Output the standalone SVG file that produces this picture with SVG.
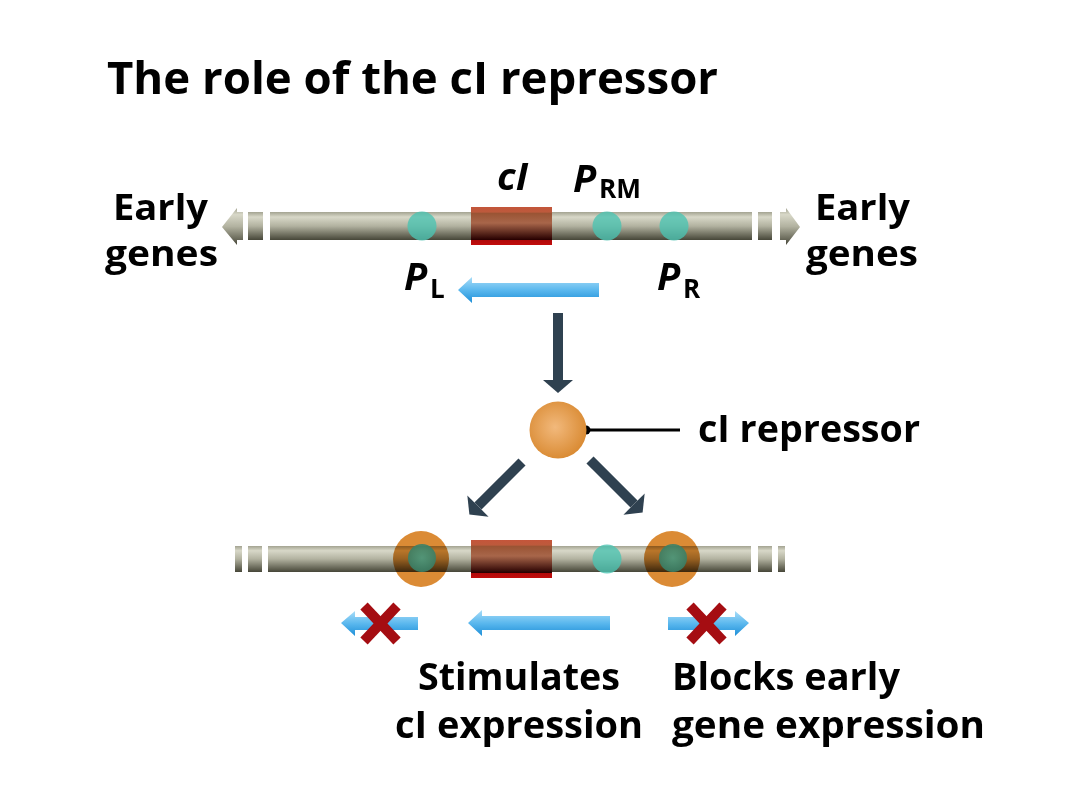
<svg xmlns="http://www.w3.org/2000/svg" width="1080" height="810" viewBox="0 0 1080 810">
<style>
text{font-family:"Open Sans","Liberation Sans",sans-serif;font-weight:700;fill:#000}
.lbl{font-size:38px}
.side{font-size:35px}
.sub{font-size:26px}
.it{font-style:italic}
.bar{fill:url(#gBar)}
.box{fill:url(#gBox)}
.teal{fill:#4cc3b1;opacity:.8}
.blue{fill:url(#gBlue)}
.dark{fill:#2f4150}
.cross{stroke:#a50d12;stroke-width:10;stroke-linecap:butt}
</style>
<defs>
<linearGradient id="gBar" x1="0" y1="0" x2="0" y2="1">
<stop offset="0" stop-color="#a3a391"/>
<stop offset="0.18" stop-color="#d8d8c8"/>
<stop offset="0.5" stop-color="#b2b2a0"/>
<stop offset="1" stop-color="#464638"/>
</linearGradient>
<linearGradient id="gBox" x1="0" y1="0" x2="0" y2="1">
<stop offset="0" stop-color="#c4553a"/>
<stop offset="0.13" stop-color="#bd5a3c"/>
<stop offset="0.17" stop-color="#9a5434"/>
<stop offset="0.42" stop-color="#a8664a"/>
<stop offset="0.86" stop-color="#280000"/>
<stop offset="0.87" stop-color="#b00a0a"/>
<stop offset="1" stop-color="#c20c0c"/>
</linearGradient>
<linearGradient id="gBlue" x1="0" y1="0" x2="0" y2="1">
<stop offset="0" stop-color="#a9ddf8"/>
<stop offset="0.5" stop-color="#5bb8ee"/>
<stop offset="1" stop-color="#1e8fd8"/>
</linearGradient>
<radialGradient id="gOrange" cx="0.45" cy="0.45" r="0.6">
<stop offset="0" stop-color="#f2b97c"/>
<stop offset="1" stop-color="#d8882f"/>
</radialGradient>
<radialGradient id="gGreen" cx="0.5" cy="0.5" r="0.5">
<stop offset="0" stop-color="#4a9a80"/>
<stop offset="1" stop-color="#3a7f66"/>
</radialGradient>
<g id="downArrow">
<rect x="-5" y="0" width="10" height="67"/>
<polygon points="-15,67 15,67 0,80"/>
</g>
</defs>
<rect width="1080" height="810" fill="#fff"/>

<text x="107" y="94" style="font-size:44px" textLength="611" lengthAdjust="spacingAndGlyphs">The role of the cI repressor</text>

<g id="top-dna">
<polygon class="bar" points="222,227 237,208 237,212 243,212 243,240 237,240 237,245"/>
<rect class="bar" x="248" y="212" width="15" height="28"/>
<rect class="bar" x="270" y="212" width="482" height="28"/>
<rect class="bar" x="758" y="212" width="14" height="28"/>
<polygon class="bar" points="780,212 786,212 786,208 800,227 786,245 786,240 780,240"/>
<rect class="box" x="471" y="207" width="81" height="38"/>
<ellipse class="teal" cx="422" cy="226" rx="14.5" ry="14.5"/>
<ellipse class="teal" cx="607" cy="226" rx="14.5" ry="14.5"/>
<ellipse class="teal" cx="674" cy="226" rx="14.5" ry="14.5"/>
</g>

<g id="top-labels">
<text class="side" x="113" y="220" textLength="95" lengthAdjust="spacingAndGlyphs">Early</text>
<text class="side" x="105" y="266" textLength="113" lengthAdjust="spacingAndGlyphs">genes</text>
<text class="side" x="815" y="220" textLength="95" lengthAdjust="spacingAndGlyphs">Early</text>
<text class="side" x="806" y="266" textLength="112" lengthAdjust="spacingAndGlyphs">genes</text>
<text class="lbl it" x="497" y="190" textLength="31" lengthAdjust="spacingAndGlyphs">cI</text>
<text class="lbl it" x="573" y="192">P</text>
<text class="sub" x="599" y="198" textLength="42" lengthAdjust="spacingAndGlyphs">RM</text>
<text class="lbl it" x="404" y="290">P</text>
<text class="sub" x="430" y="298">L</text>
<text class="lbl it" x="657" y="290">P</text>
<text class="sub" x="683" y="298">R</text>
</g>

<g id="top-transcript">
<polygon class="blue" points="458,290 472,277 472,283 599,283 599,297 472,297 472,303"/>
</g>

<g id="connectors">
<use href="#downArrow" class="dark" transform="translate(558,313)"/>
<use href="#downArrow" class="dark" transform="translate(522,462) rotate(45) scale(1,0.93)"/>
<use href="#downArrow" class="dark" transform="translate(590,460) rotate(-45) scale(1,0.93)"/>
<line x1="586" y1="430" x2="680" y2="430" stroke="#000" stroke-width="3"/>
<circle cx="586" cy="430" r="4.5" fill="#000"/>
</g>

<g id="repressor">
<circle cx="558" cy="430" r="28.5" fill="url(#gOrange)"/>
</g>
<text class="lbl" x="698" y="442" textLength="222" lengthAdjust="spacingAndGlyphs">cI repressor</text>

<g id="bottom-dna">
<rect class="bar" x="235" y="546" width="7" height="26"/>
<rect class="bar" x="248" y="546" width="14" height="26"/>
<rect class="bar" x="268" y="546" width="483" height="26"/>
<rect class="bar" x="758" y="546" width="14" height="26"/>
<rect class="bar" x="778" y="546" width="7" height="26"/>
<rect class="box" x="471" y="540" width="81" height="38"/>
<ellipse class="teal" cx="607" cy="559" rx="14.5" ry="14.5"/>
<circle cx="421" cy="559" r="28" fill="#db8b35" style="mix-blend-mode:multiply"/>
<circle cx="672" cy="559" r="28" fill="#db8b35" style="mix-blend-mode:multiply"/>
<circle cx="422" cy="558" r="14" fill="url(#gGreen)" opacity="0.9"/>
<circle cx="673" cy="558" r="14" fill="url(#gGreen)" opacity="0.9"/>
</g>

<g id="bottom-transcripts">
<polygon class="blue" points="341,623 355,611 355,617 418,617 418,630 355,630 355,636"/>
<polygon class="blue" points="468,623 482,610 482,616 610,616 610,630 482,630 482,636"/>
<polygon class="blue" points="749,623 735,611 735,617 668,617 668,630 735,630 735,636"/>
<g class="cross">
<line x1="364" y1="606" x2="397" y2="641"/>
<line x1="397" y1="606" x2="364" y2="641"/>
<line x1="690" y1="606" x2="723" y2="641"/>
<line x1="723" y1="606" x2="690" y2="641"/>
</g>
</g>

<g id="bottom-labels">
<text class="lbl" x="418" y="690" textLength="202" lengthAdjust="spacingAndGlyphs">Stimulates</text>
<text class="lbl" x="395" y="738" textLength="248" lengthAdjust="spacingAndGlyphs">cI expression</text>
<text class="lbl" x="672" y="690" textLength="228" lengthAdjust="spacingAndGlyphs">Blocks early</text>
<text class="lbl" x="672" y="738" textLength="313" lengthAdjust="spacingAndGlyphs">gene expression</text>
</g>
</svg>
